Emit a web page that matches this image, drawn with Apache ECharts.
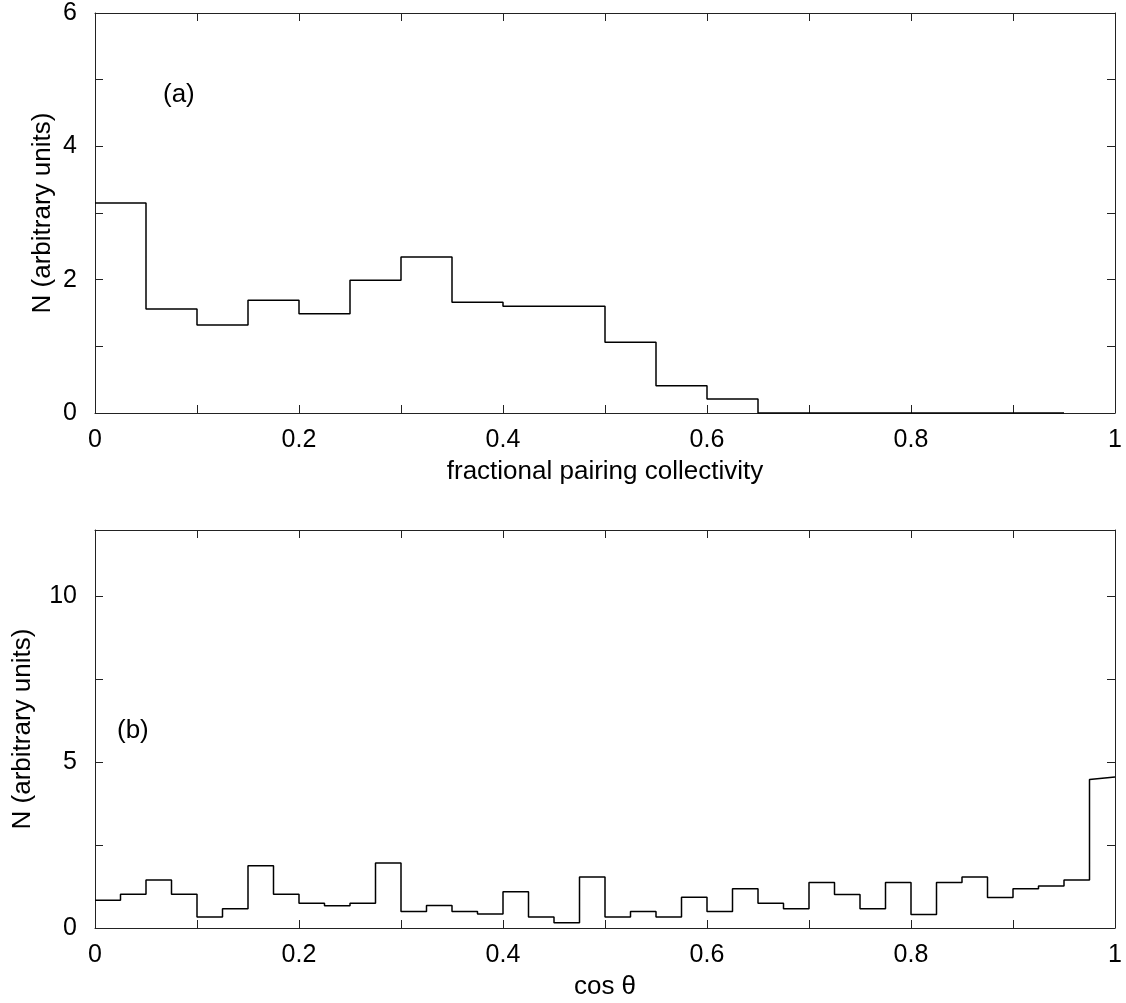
<!DOCTYPE html>
<html>
<head>
<meta charset="utf-8">
<script src="https://cdn.jsdelivr.net/npm/echarts@6/dist/echarts.min.js"></script>
<style>
  html, body { margin: 0; padding: 0; background: #fff; }
  #chart { width: 1126px; height: 1003px; }
</style>
</head>
<body>
<div id="chart"></div>
<script>
// ---- Data ----
// Panel (a): fractional pairing collectivity histogram, bin width 0.05 starting at 0
const topBinStart = 0;
const topBinWidth = 0.05;
const topValues = [3.15, 1.56, 1.32, 1.69, 1.49, 1.99, 2.34, 1.66, 1.60, 1.60,
                   1.06, 0.41, 0.21, 0, 0, 0, 0, 0, 0];
// Panel (b): cos theta histogram, bin width 0.025 starting at 0
const bottomBinStart = 0;
const bottomBinWidth = 0.025;
const bottomValues = [0.84, 1.02, 1.45, 1.02, 0.33, 0.58, 1.88, 1.02, 0.75, 0.67,
                      0.75, 1.96, 0.50, 0.68, 0.50, 0.42, 1.09, 0.33, 0.16, 1.54,
                      0.33, 0.50, 0.33, 0.93, 0.50, 1.18, 0.75, 0.58, 1.37, 1.01,
                      0.58, 1.37, 0.41, 1.37, 1.54, 0.92, 1.18, 1.27, 1.45, 4.48];
const bottomLastEndValue = 4.55;

// Tick labels
const xTickLabels = { 0: '0', 2: '0.2', 4: '0.4', 6: '0.6', 8: '0.8', 10: '1' };
const topYTickLabels = { 0: '0', 2: '2', 4: '4', 6: '6' };
const bottomYTickLabels = { 0: '0', 5: '5', 10: '10' };

const panelLabels = ['(a)', '(b)'];
const xTitles = ['fractional pairing collectivity', 'cos \u03b8'];
const yTitle = 'N (arbitrary units)';

// ---- Build step paths ----
function stepPoints(start, width, values, lastEnd) {
  const pts = [];
  values.forEach((v, i) => {
    const x0 = +(start + i * width).toFixed(6);
    const x1 = +(start + (i + 1) * width).toFixed(6);
    pts.push([x0, v]);
    pts.push([x1, (i === values.length - 1 && lastEnd != null) ? lastEnd : v]);
  });
  return pts;
}

const FONT = 'Liberation Sans, Arial, Helvetica, sans-serif';
const AXIS_COLOR = '#222';

function xAxisCfg(gridIndex, name, isTop) {
  return {
    type: 'value', gridIndex: gridIndex, min: 0, max: 1, interval: 0.1,
    position: isTop ? 'top' : 'bottom',
    name: isTop ? '' : name, nameLocation: 'middle', nameGap: 46,
    nameTextStyle: { fontFamily: FONT, fontSize: 26, color: '#000' },
    axisLine: { show: true, onZero: false, lineStyle: { color: AXIS_COLOR, width: 1 } },
    axisTick: { show: true, inside: true, length: 8, lineStyle: { color: AXIS_COLOR, width: 1 } },
    axisLabel: {
      show: !isTop, margin: 15, fontFamily: FONT, fontSize: 25, color: '#000',
      formatter: v => { const k = Math.round(v * 10); return xTickLabels[k] !== undefined ? xTickLabels[k] : ''; }
    },
    splitLine: { show: false }
  };
}

function yAxisCfg(gridIndex, max, interval, labels, isRight, nameGap) {
  return {
    type: 'value', gridIndex: gridIndex, min: 0, max: max, interval: interval,
    position: isRight ? 'right' : 'left',
    name: isRight ? '' : yTitle, nameLocation: 'middle', nameGap: nameGap, nameRotate: 90,
    nameMoveOverlap: false,
    nameTextStyle: { fontFamily: FONT, fontSize: 26, color: '#000' },
    axisLine: { show: true, onZero: false, lineStyle: { color: AXIS_COLOR, width: 1 } },
    axisTick: { show: true, inside: true, length: 8, lineStyle: { color: AXIS_COLOR, width: 1 } },
    axisLabel: {
      show: !isRight, margin: 18, fontFamily: FONT, fontSize: 25, color: '#000',
      formatter: v => { const k = Math.round(v * 100) / 100; return labels[k] !== undefined ? labels[k] : ''; }
    },
    splitLine: { show: false }
  };
}

const chart = echarts.init(document.getElementById('chart'), null, { renderer: 'canvas' });
chart.setOption({
  animation: false,
  backgroundColor: '#fff',
  title: [
    { text: panelLabels[0], left: 163, top: 82, textStyle: { fontFamily: FONT, fontSize: 26, fontWeight: 'normal', color: '#000' }, padding: 0 },
    { text: panelLabels[1], left: 117, top: 718, textStyle: { fontFamily: FONT, fontSize: 26, fontWeight: 'normal', color: '#000' }, padding: 0 }
  ],
  grid: [
    { left: 95, top: 13, width: 1020, height: 400, containLabel: false },
    { left: 95, top: 530, width: 1020, height: 398, containLabel: false }
  ],
  xAxis: [
    xAxisCfg(0, xTitles[0], false),
    xAxisCfg(0, '', true),
    xAxisCfg(1, xTitles[1], false),
    xAxisCfg(1, '', true)
  ],
  yAxis: [
    yAxisCfg(0, 6, 1, topYTickLabels, false, 39),
    yAxisCfg(0, 6, 1, topYTickLabels, true, 0),
    yAxisCfg(1, 12, 2.5, bottomYTickLabels, false, 59),
    yAxisCfg(1, 12, 2.5, bottomYTickLabels, true, 0)
  ],
  series: [
    {
      type: 'line', xAxisIndex: 0, yAxisIndex: 0,
      data: stepPoints(topBinStart, topBinWidth, topValues, null),
      showSymbol: false, symbol: 'none',
      lineStyle: { color: '#000', width: 1.5 }
    },
    {
      type: 'line', xAxisIndex: 2, yAxisIndex: 2,
      data: stepPoints(bottomBinStart, bottomBinWidth, bottomValues, bottomLastEndValue),
      showSymbol: false, symbol: 'none',
      lineStyle: { color: '#000', width: 1.5 }
    }
  ]
});
</script>
</body>
</html>
